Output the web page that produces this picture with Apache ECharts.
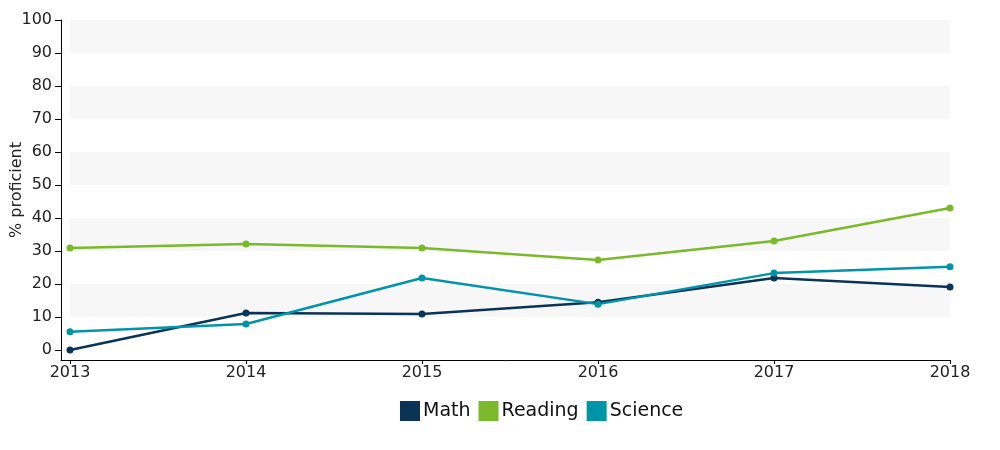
<!DOCTYPE html>
<html><head><meta charset="utf-8">
<script src="https://cdn.jsdelivr.net/npm/echarts@6/dist/echarts.min.js"></script>
<style>html,body{margin:0;padding:0;background:#fff}#c{width:1000px;height:450px}</style>
</head><body><div id="c"></div>
<script>
const years = [2013, 2014, 2015, 2016, 2017, 2018];
const math = [0, 11.2, 10.9, 14.5, 21.8, 19.1];
const reading = [30.9, 32.1, 30.9, 27.3, 33.0, 43.0];
const science = [5.5, 7.9, 21.8, 13.9, 23.3, 25.2];
const yTicks = [0, 10, 20, 30, 40, 50, 60, 70, 80, 90, 100];
const bands = [[10, 20], [30, 40], [50, 60], [70, 80], [90, 100]];

const FONT = 'DejaVu Sans';
const pairs = arr => years.map((y, i) => [y, arr[i]]);
const mk = (name, color, arr, extra) => Object.assign({
  name, type: 'line', data: pairs(arr), color,
  symbol: 'circle', symbolSize: 7, showSymbol: true,
  lineStyle: { width: 2.5, color }, itemStyle: { color },
  emphasis: { disabled: true }, z: 3
}, extra || {});

const chart = echarts.init(document.getElementById('c'), null, { renderer: 'canvas' });
chart.setOption({
  animation: false,
  textStyle: { fontFamily: FONT },
  grid: { left: 61, right: 50, top: 20, bottom: 90, containLabel: false, outerBoundsMode: 'none' },
  xAxis: {
    type: 'value', min: 2013 - 9 / 176, max: 2018,
    axisLine: { show: true, onZero: false, lineStyle: { color: '#000', width: 1 } },
    axisTick: { show: true, length: 4, customValues: years, lineStyle: { color: '#000' } },
    axisLabel: { customValues: years, color: '#222', fontSize: 16, fontFamily: FONT, margin: 5, formatter: v => String(v) },
    splitLine: { show: false }
  },
  yAxis: {
    type: 'value', min: -10 / 3.3, max: 100,
    name: '% proficient', nameLocation: 'middle', nameGap: 36, nameMoveOverlap: false,
    nameTextStyle: { color: '#222', fontSize: 16, fontFamily: FONT },
    axisLine: { show: true, onZero: false, lineStyle: { color: '#000', width: 1 } },
    axisTick: { show: true, length: 6, customValues: yTicks, lineStyle: { color: '#000' } },
    axisLabel: { customValues: yTicks, color: '#222', fontSize: 16, fontFamily: FONT, margin: 9, formatter: v => String(Math.round(v)) },
    splitLine: { show: false }
  },
  legend: {
    bottom: 29, left: 400, padding: 0, icon: 'rect', itemWidth: 20, itemHeight: 20, itemGap: 8,
    textStyle: { fontSize: 19, color: '#111', fontFamily: FONT, padding: [0, 0, 0, -2] },
    data: ['Math', 'Reading', 'Science']
  },
  series: [
    mk('Math', '#0a3358', math, {
      markArea: {
        silent: true,
        itemStyle: { color: '#f7f7f7' },
        data: bands.map(b => [{ xAxis: 2013, yAxis: b[0] }, { xAxis: 2018, yAxis: b[1] }])
      }
    }),
    mk('Reading', '#7ab929', reading),
    mk('Science', '#0094a8', science)
  ]
});
</script></body></html>
